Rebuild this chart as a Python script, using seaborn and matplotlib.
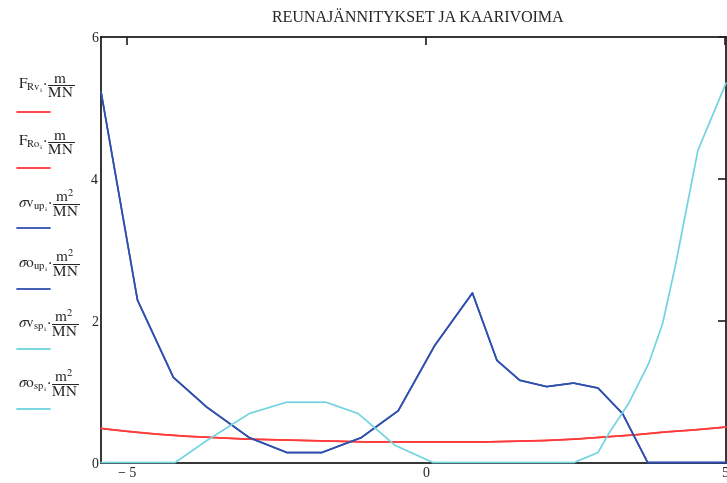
import numpy as np
import pandas as pd
import matplotlib
matplotlib.use("Agg")
import matplotlib.pyplot as plt
import seaborn as sns
from matplotlib.lines import Line2D

# ── DATA ──────────────────────────────────────────────────
x_red = [-5.43, -5.0, -4.5, -4.0, -3.5, -3.0, -2.5, -2.0, -1.5, -1.0, -0.5,
         0.0, 0.5, 1.0, 1.5, 2.0, 2.5, 3.0, 3.5, 4.0, 4.5, 5.02]
F_Rv = [0.48, 0.44, 0.40, 0.37, 0.35, 0.33, 0.32, 0.31, 0.30, 0.29, 0.29,
        0.29, 0.29, 0.29, 0.30, 0.31, 0.33, 0.36, 0.39, 0.43, 0.46, 0.50]
F_Ro = [0.48, 0.44, 0.40, 0.37, 0.35, 0.33, 0.32, 0.31, 0.30, 0.29, 0.29,
        0.29, 0.29, 0.29, 0.30, 0.31, 0.33, 0.36, 0.39, 0.43, 0.46, 0.50]

x_up = [-5.43, -4.82, -4.22, -3.66, -2.95, -2.32, -1.74, -1.08, -0.46, 0.15,
        0.78, 1.19, 1.57, 2.02, 2.47, 2.88, 3.29, 3.71, 5.02]
sv_up = [5.23, 2.29, 1.20, 0.78, 0.35, 0.14, 0.14, 0.35, 0.73, 1.65,
         2.39, 1.44, 1.16, 1.07, 1.12, 1.05, 0.69, 0.0, 0.0]
so_up = [5.23, 2.29, 1.20, 0.78, 0.35, 0.14, 0.14, 0.35, 0.73, 1.65,
         2.39, 1.44, 1.16, 1.07, 1.12, 1.05, 0.69, 0.0, 0.0]

x_vsp = [-5.43, -4.19, -3.66, -2.95, -2.33, -1.67, -1.13, -0.51, 0.12]
sv_sp = [0.0, 0.0, 0.31, 0.69, 0.85, 0.85, 0.69, 0.24, 0.0]

x_osp = [0.12, 2.48, 2.88, 3.06, 3.39, 3.73, 3.96, 4.17, 4.55, 5.02]
so_sp = [0.0, 0.0, 0.14, 0.41, 0.83, 1.40, 1.96, 2.76, 4.40, 5.35]

labels = [
    r"$\mathrm{F}_{\mathrm{Rv}_{\mathrm{i}}}\!\cdot\!\dfrac{\mathrm{m}}{\mathrm{MN}}$",
    r"$\mathrm{F}_{\mathrm{Ro}_{\mathrm{i}}}\!\cdot\!\dfrac{\mathrm{m}}{\mathrm{MN}}$",
    r"$\sigma\mathrm{v}_{\mathrm{up}_{\mathrm{i}}}\!\cdot\!\dfrac{\mathrm{m}^2}{\mathrm{MN}}$",
    r"$\sigma\mathrm{o}_{\mathrm{up}_{\mathrm{i}}}\!\cdot\!\dfrac{\mathrm{m}^2}{\mathrm{MN}}$",
    r"$\sigma\mathrm{v}_{\mathrm{sp}_{\mathrm{i}}}\!\cdot\!\dfrac{\mathrm{m}^2}{\mathrm{MN}}$",
    r"$\sigma\mathrm{o}_{\mathrm{sp}_{\mathrm{i}}}\!\cdot\!\dfrac{\mathrm{m}^2}{\mathrm{MN}}$",
]
x_ticks = [-5, 0, 5]
x_ticklabels = ["\u2212 5", "0", "5"]
y_ticks = [0, 2, 4, 6]

# ── STYLE ─────────────────────────────────────────────────
sns.set_style("white")
plt.rcParams["font.family"] = ["Liberation Serif", "DejaVu Serif"]
plt.rcParams["mathtext.fontset"] = "stix"

RED = "#ff3a3a"
BLUE = "#2f4fae"
CYAN = "#6fd3e0"

series = [
    (x_red, F_Rv, RED),
    (x_red, F_Ro, RED),
    (x_up, sv_up, BLUE),
    (x_up, so_up, BLUE),
    (x_vsp, sv_sp, CYAN),
    (x_osp, so_sp, CYAN),
]

fig = plt.figure(figsize=(7.27, 4.83), dpi=100)
ax = fig.add_axes([101 / 727, (483 - 462.5) / 483, 625 / 727, 425.5 / 483])

for i, (xs, ys, col) in enumerate(series):
    df = pd.DataFrame({"x": xs, "y": ys})
    sns.lineplot(data=df, x="x", y="y", ax=ax, color=col, lw=1.2,
                 sort=False, estimator=None, clip_on=False, zorder=3 + i)

ax.set_xlim(-5.43, 5.02)
ax.set_ylim(0, 6)
ax.set_xticks(x_ticks)
ax.set_xticklabels(x_ticklabels)
ax.set_yticks(y_ticks)
ax.set_xlabel("")
ax.set_ylabel("")
ax.tick_params(direction="in", length=6, width=1.2, colors="#222222",
               labelsize=10, top=True, right=True, pad=3)
ax.tick_params(axis="y", pad=2)
for side in ["left", "bottom", "top", "right"]:
    ax.spines[side].set_visible(True)
    ax.spines[side].set_color("#222222")
    ax.spines[side].set_linewidth(1.3)

fig.text(418 / 727, 1 - 18 / 483, "REUNAJÄNNITYKSET JA KAARIVOIMA",
         ha="center", va="center", fontsize=11.5)

# legend: label above a short coloured stroke, as in the reference
text_y = [87, 144, 203, 263, 323, 383]
line_y = [112, 168, 228, 289, 349, 409]
for lab, ty, ly, (_, _, col) in zip(labels, text_y, line_y, series):
    fig.text(18 / 727, 1 - ty / 483, lab, ha="left", va="center", fontsize=11)
    fig.add_artist(Line2D([17 / 727, 50 / 727], [1 - ly / 483] * 2,
                          color=col, lw=1.3, transform=fig.transFigure))

plt.savefig("out.png", dpi=100)
